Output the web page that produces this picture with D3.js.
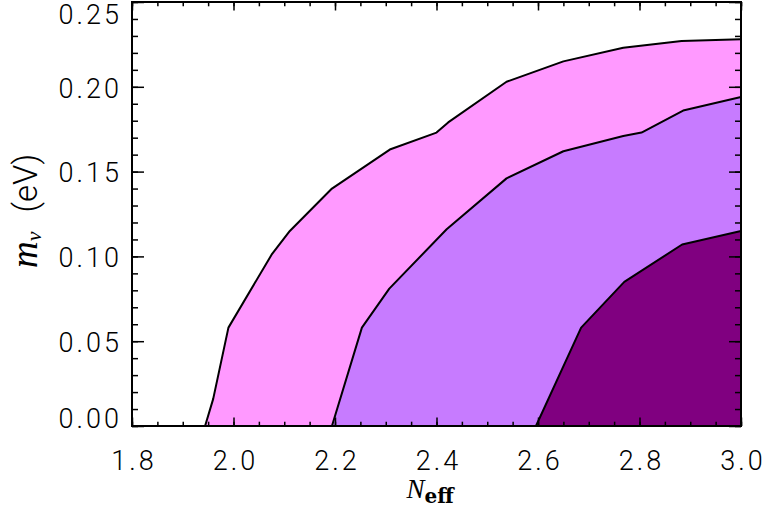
<!DOCTYPE html>
<html>
<head>
<meta charset="utf-8">
<script src="https://cdn.jsdelivr.net/npm/d3@7"></script>
<style>
    body { margin: 0; background: #fff; }
    .tick text { font-family: Roboto, sans-serif; font-weight: 300; }
</style>
</head>
<body>
<script>
// contour levels, N_eff vs m_nu (eV)
var outerN = [1.944, 1.960, 1.990, 2.075, 2.111, 2.194, 2.308, 2.400, 2.423, 2.538, 2.650, 2.768, 2.883, 3.0];
var outerM = [0.000, 0.016, 0.058, 0.101, 0.115, 0.140, 0.163, 0.173, 0.179, 0.203, 0.215, 0.223, 0.227, 0.228];

var midN = [2.194, 2.253, 2.307, 2.420, 2.538, 2.650, 2.768, 2.804, 2.886, 3.0];
var midM = [0.000, 0.058, 0.081, 0.116, 0.146, 0.162, 0.171, 0.173, 0.186, 0.194];

var innerN = [2.596, 2.685, 2.770, 2.884, 3.0];
var innerM = [0.000, 0.058, 0.085, 0.107, 0.115];

var xTicks = [1.8, 2.0, 2.2, 2.4, 2.6, 2.8, 3.0];
var yTicks = [0.00, 0.05, 0.10, 0.15, 0.20, 0.25];

var levelColors = ['#FF99FF', '#C77BFF', '#800080'];

window.onload = function() {
    var w = 765, h = 515;
    var left = 132, right = 741, top = 2, bottom = 426;

    var svg = d3.select('body')
        .append('svg')
        .attr('width', w)
        .attr('height', h);

    var x = d3.scaleLinear()
        .domain([1.8, 3.0])
        .range([left, right]);
    var y = d3.scaleLinear()
        .domain([0, 0.25])
        .range([bottom, top]);

    var levels = [
        { n: outerN, m: outerM },
        { n: midN, m: midM },
        { n: innerN, m: innerM }
    ];

    var line = d3.line()
        .x(function(d) { return x(d[0]); })
        .y(function(d) { return y(d[1]); });

    levels.forEach(function(lv, i) {
        var pts = d3.zip(lv.n, lv.m);
        // close the region down the right edge and along the bottom
        var poly = pts.concat([[3.0, 0]]);
        svg.append('path')
            .attr('d', line(poly) + 'Z')
            .style('fill', levelColors[i])
            .style('stroke', 'none');
    });

    levels.forEach(function(lv) {
        svg.append('path')
            .attr('d', line(d3.zip(lv.n, lv.m)))
            .style('fill', 'none')
            .style('stroke', '#000')
            .style('stroke-width', 2)
            .style('stroke-linejoin', 'round');
    });

    // minor ticks
    var xMinor = d3.range(1.8, 3.0001, 0.05);
    var yMinor = d3.range(0, 0.2501, 0.01);

    svg.append('g').attr('transform', 'translate(0,' + bottom + ')')
        .call(d3.axisBottom(x).tickValues(xMinor).tickSize(-4.3).tickFormat(''));
    svg.append('g').attr('transform', 'translate(0,' + top + ')')
        .call(d3.axisTop(x).tickValues(xMinor).tickSize(-4.3).tickFormat(''));
    svg.append('g').attr('transform', 'translate(' + left + ',0)')
        .call(d3.axisLeft(y).tickValues(yMinor).tickSize(-6).tickFormat(''));
    svg.append('g').attr('transform', 'translate(' + right + ',0)')
        .call(d3.axisRight(y).tickValues(yMinor).tickSize(-6).tickFormat(''));

    // major ticks with labels
    var xAxis = svg.append('g').attr('class', 'xaxis')
        .attr('transform', 'translate(0,' + bottom + ')')
        .call(d3.axisBottom(x).tickValues(xTicks).tickSize(-8.5).tickPadding(25)
            .tickFormat(d3.format('.1f')));
    svg.append('g').attr('transform', 'translate(0,' + top + ')')
        .call(d3.axisTop(x).tickValues(xTicks).tickSize(-8.5).tickFormat(''));
    var yAxis = svg.append('g').attr('class', 'yaxis')
        .attr('transform', 'translate(' + left + ',0)')
        .call(d3.axisLeft(y).tickValues(yTicks).tickSize(-12).tickPadding(10)
            .tickFormat(d3.format('.2f')));
    svg.append('g').attr('transform', 'translate(' + right + ',0)')
        .call(d3.axisRight(y).tickValues(yTicks).tickSize(-12).tickFormat(''));

    svg.selectAll('.domain').remove();
    svg.selectAll('.tick line').style('stroke', '#000').style('stroke-width', 1.5);

    xAxis.selectAll('text')
        .style('font-size', '27px')
        .style('fill', '#000')
        .style('letter-spacing', '3px')
        .attr('dx', '1.5px');
    yAxis.selectAll('text')
        .style('font-size', '27px')
        .style('fill', '#000')
        .style('letter-spacing', '3px')
        .attr('dy', '0.38em')
        .attr('y', function(d) {
            // end labels are kept inside the frame
            if (d === 0) return -9;
            if (d === 0.25) return 11.5;
            return 0;
        });

    // frame
    svg.append('rect')
        .attr('x', left)
        .attr('y', top)
        .attr('width', right - left)
        .attr('height', bottom - top)
        .style('fill', 'none')
        .style('stroke', '#000')
        .style('stroke-width', 2);

    // axis titles
    var xt = svg.append('text')
        .attr('x', 430)
        .attr('y', 498)
        .attr('text-anchor', 'middle');
    xt.append('tspan')
        .style('font-family', "'Liberation Serif', serif")
        .style('font-style', 'italic')
        .style('font-size', '27px')
        .text('N');
    xt.append('tspan')
        .attr('dy', 5)
        .style('font-family', "'DejaVu Serif', serif")
        .style('font-weight', 'bold')
        .style('font-size', '20px')
        .text('eff');

    var yt = svg.append('text')
        .attr('transform', 'translate(37,268) rotate(-90)')
        .attr('text-anchor', 'start');
    yt.append('tspan')
        .style('font-family', "'Liberation Serif', serif")
        .style('font-style', 'italic')
        .style('font-size', '37px')
        .text('m');
    yt.append('tspan')
        .attr('dy', 4)
        .style('font-family', "'Liberation Serif', serif")
        .style('font-style', 'italic')
        .style('font-size', '22px')
        .text('ν');
    yt.append('tspan')
        .attr('dy', -4)
        .attr('dx', 19)
        .style('font-family', 'Roboto, sans-serif')
        .style('font-weight', 300)
        .style('font-size', '33px')
        .text('(eV)');
};
</script>
</body>
</html>
